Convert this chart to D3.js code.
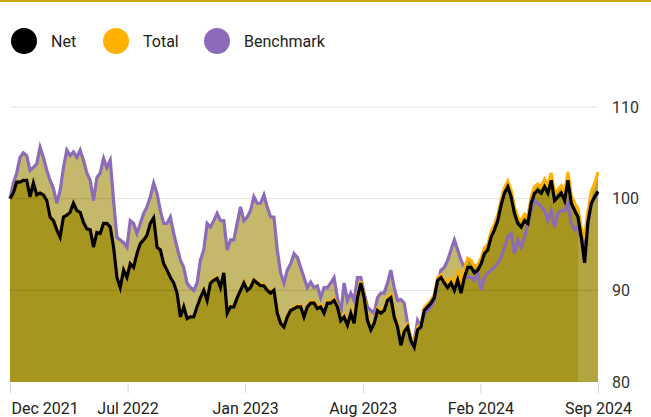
<!DOCTYPE html>
<html>
<head>
<meta charset="utf-8">
<script src="https://cdn.jsdelivr.net/npm/d3@7"></script>
<style>
  body { margin: 0; background: #fff; }
  svg { display: block; font-family: Roboto, "Liberation Sans", sans-serif; }
</style>
</head>
<body>
<div class="chart_wrapper"></div>
<script>
// series, sampled evenly from Dec 2021 to Sep 2024
const net = [
  100.0, 100.6, 101.8, 101.8, 102.0, 102.0, 100.2, 101.7, 100.4, 100.6,
  100.4, 99.8, 98.0, 97.6, 96.6, 95.8, 98.0, 98.2, 98.5, 99.5,
  98.7, 98.5, 97.4, 96.7, 96.6, 94.7, 96.3, 96.2, 97.3, 97.3,
  96.9, 94.7, 91.4, 90.3, 92.2, 91.4, 92.9, 92.5, 94.0, 95.1,
  95.5, 96.0, 97.3, 97.9, 94.7, 94.4, 92.9, 92.2, 91.4, 90.8,
  89.7, 87.1, 88.2, 86.9, 87.1, 87.1, 88.2, 89.2, 90.0, 88.9,
  90.8, 91.1, 91.3, 90.3, 91.9, 87.5, 88.2, 88.2, 89.2, 90.0,
  90.8, 90.0, 90.3, 91.1, 90.8, 90.5, 90.5, 90.0, 89.7, 90.0,
  87.5, 86.4, 86.0, 87.1, 87.8, 88.0, 88.2, 88.2, 87.1, 88.2,
  88.6, 88.6, 88.0, 88.2, 87.5, 88.6, 88.6, 88.9, 88.2, 86.7,
  87.1, 86.2, 87.5, 86.4, 89.2, 90.8, 89.2, 86.7, 85.7, 86.4,
  87.8, 87.5, 87.8, 88.9, 89.2, 87.1, 86.0, 84.0, 85.5, 86.0,
  84.5, 83.8, 85.7, 86.0, 87.8, 88.2, 88.6, 89.2, 91.1, 91.4,
  90.8, 90.3, 90.8, 90.0, 91.1, 89.7, 91.4, 92.5, 92.5, 91.9,
  92.2, 92.9, 94.0, 94.4, 95.8, 96.6, 97.6, 99.3, 100.6, 101.3,
  100.2, 98.4, 97.3, 96.9, 97.6, 97.3, 99.5, 100.6, 100.9, 100.6,
  101.3, 100.6, 102.0, 99.8, 100.2, 100.6, 99.8, 102.0, 99.5, 98.7,
  98.0, 95.8, 93.0, 97.5, 99.5, 100.2, 100.8
]
const total = [
  100.0, 100.6, 101.8, 101.8, 102.0, 102.0, 100.2, 101.7, 100.4, 100.6,
  100.4, 99.8, 98.0, 97.6, 96.6, 95.8, 98.0, 98.2, 98.5, 99.5,
  98.7, 98.5, 97.4, 96.7, 96.6, 94.7, 96.3, 96.2, 97.3, 97.3,
  96.9, 94.7, 91.4, 90.3, 92.2, 91.4, 92.9, 92.5, 94.0, 95.1,
  95.5, 96.0, 97.3, 97.9, 94.7, 94.4, 92.9, 92.2, 91.4, 90.8,
  89.7, 87.1, 88.2, 86.9, 87.1, 87.1, 88.2, 89.2, 90.0, 88.9,
  90.9, 91.2, 91.4, 90.4, 92.0, 87.6, 88.3, 88.3, 89.3, 90.1,
  90.9, 90.1, 90.4, 91.2, 90.9, 90.6, 90.6, 90.1, 89.8, 90.1,
  87.6, 86.5, 86.1, 87.2, 87.9, 88.1, 88.3, 88.3, 87.2, 88.3,
  88.8, 88.8, 88.2, 88.4, 87.7, 88.8, 88.8, 89.1, 88.4, 86.9,
  87.3, 86.4, 87.7, 86.6, 89.4, 91.0, 89.4, 86.9, 85.9, 86.6,
  88.0, 87.7, 88.0, 89.2, 89.5, 87.4, 86.3, 84.3, 85.8, 86.3,
  84.8, 84.1, 86.0, 86.3, 88.1, 88.5, 88.9, 89.5, 91.4, 91.7,
  91.2, 90.8, 91.3, 90.6, 92.0, 91.0, 92.4, 93.5, 93.3, 92.6,
  92.8, 93.5, 94.6, 95.0, 96.4, 97.2, 98.2, 99.9, 101.2, 101.9,
  100.9, 99.1, 98.0, 97.6, 98.3, 98.0, 100.2, 101.3, 101.6, 101.3,
  102.1, 101.4, 102.8, 100.6, 101.0, 101.4, 100.6, 102.9, 100.3, 99.5,
  98.9, 96.8, 96.0, 98.6, 100.8, 101.6, 102.9
]
const benchmark = [
  100.0, 101.7, 102.8, 104.5, 105.0, 104.7, 103.1, 103.4, 103.8, 105.6,
  104.5, 103.1, 102.0, 101.1, 99.5, 100.9, 103.4, 105.3, 104.7, 105.1,
  104.5, 105.3, 104.2, 102.8, 102.0, 99.8, 102.3, 102.8, 104.4, 103.4,
  104.2, 99.8, 95.8, 95.5, 95.2, 94.7, 97.6, 97.3, 96.2, 97.3,
  98.4, 99.1, 100.2, 101.7, 100.6, 98.7, 97.3, 97.3, 98.0, 96.2,
  94.7, 93.3, 92.5, 90.8, 90.3, 90.0, 90.8, 93.3, 94.4, 97.3,
  96.9, 97.6, 98.4, 97.6, 97.6, 94.4, 95.5, 95.5, 97.3, 99.1,
  97.6, 98.0, 98.7, 100.2, 99.5, 99.5, 100.4, 99.1, 98.0, 98.0,
  94.4, 91.9, 90.8, 92.2, 92.9, 94.0, 93.6, 92.5, 91.4, 90.3,
  90.9, 90.3, 90.5, 89.2, 90.3, 90.3, 90.8, 91.4, 89.2, 87.5,
  90.8, 88.9, 89.7, 88.9, 91.4, 91.4, 89.7, 88.2, 87.8, 87.5,
  89.2, 89.7, 89.7, 90.8, 92.2, 90.3, 88.9, 89.0, 88.6, 86.4,
  84.2, 84.5, 86.7, 86.0, 87.5, 87.8, 88.2, 88.9, 90.8, 92.2,
  92.5, 93.3, 94.4, 95.5, 94.4, 93.3, 92.5, 91.4, 91.4, 91.1,
  91.9, 90.0, 91.4, 91.9, 92.2, 92.5, 93.0, 93.6, 94.7, 95.8,
  96.2, 94.0, 95.5, 94.7, 95.8, 97.3, 98.7, 99.8, 99.5, 99.1,
  98.7, 97.6, 98.7, 96.9, 98.4, 98.7, 98.7, 99.5, 97.3, 96.6,
  96.9, 95.5, 94.8, 97.4, 99.4, 100.1, 100.6
]

const xTickLabels = ['Dec 2021', 'Jul 2022', 'Jan 2023', 'Aug 2023', 'Feb 2024', 'Sep 2024']
const yTicks = [80, 90, 100, 110]
const legendItems = ['Net', 'Total', 'Benchmark']
const legendColors = ['#000000', '#ffb000', '#8c6bb8']

const width = 651
const height = 417
const plotLeft = 10, plotRight = 598, plotTop = 107, plotBottom = 382

const svg_d3 = d3.select('.chart_wrapper')
    .append('svg')
    .attr('width', width)
    .attr('height', height)

// thin gold rule at the top
svg_d3.append('rect')
    .attr('x', 0).attr('y', 0)
    .attr('width', width).attr('height', 2)
    .attr('fill', '#c8a60c')

// legend
const legend_g = svg_d3.append('g')
const legendX = [24, 116, 217]
legendItems.forEach((name, i) => {
    legend_g.append('circle')
        .attr('cx', legendX[i]).attr('cy', 41).attr('r', 13)
        .attr('fill', legendColors[i])
    legend_g.append('text')
        .attr('x', legendX[i] + 27).attr('y', 41)
        .attr('dy', '0.35em')
        .attr('font-size', '16px')
        .attr('fill', '#222')
        .text(name)
})

const x = d3.scaleLinear().domain([0, net.length - 1]).range([plotLeft, plotRight])
const y = d3.scaleLinear().domain([80, 110]).range([plotBottom, plotTop])

const idx = d3.range(net.length)

const benchArea = d3.area()
    .x(i => x(i)).y0(y(80)).y1(i => y(benchmark[i]))
const totalArea = d3.area()
    .x(i => x(i)).y0(y(80)).y1(i => y(total[i]))

svg_d3.append('path')
    .datum(idx)
    .attr('d', benchArea)
    .attr('fill', '#c4b96b')

svg_d3.append('path')
    .datum(idx)
    .attr('d', totalArea)
    .attr('fill', '#a6951f')

// lighter band on the most recent weeks
svg_d3.append('rect')
    .attr('x', x(170)).attr('y', plotTop)
    .attr('width', plotRight - x(170)).attr('height', plotBottom - plotTop)
    .attr('fill', '#fff')
    .attr('opacity', 0.14)

// gridlines
svg_d3.append('g')
    .selectAll('line')
    .data(yTicks.filter(d => d > 80))
    .join('line')
    .attr('x1', plotLeft).attr('x2', plotRight)
    .attr('y1', d => y(d)).attr('y2', d => y(d))
    .attr('stroke', '#000')
    .attr('stroke-opacity', 0.12)
    .attr('stroke-width', 1)

const lineOf = arr => d3.line().x(i => x(i)).y(i => y(arr[i]))

svg_d3.append('path')
    .datum(idx)
    .attr('d', lineOf(benchmark))
    .attr('fill', 'none')
    .attr('stroke', legendColors[2])
    .attr('stroke-width', 3.2)

svg_d3.append('path')
    .datum(idx)
    .attr('d', lineOf(total))
    .attr('fill', 'none')
    .attr('stroke', legendColors[1])
    .attr('stroke-width', 3.2)

svg_d3.append('path')
    .datum(idx)
    .attr('d', lineOf(net))
    .attr('fill', 'none')
    .attr('stroke', legendColors[0])
    .attr('stroke-width', 3.2)

// bottom axis
const xTickValues = xTickLabels.map((d, k) => (net.length - 1) * k / (xTickLabels.length - 1))
const xAxis_g = svg_d3.append('g')
    .attr('transform', `translate(0,${plotBottom + 2})`)
    .call(d3.axisBottom(x)
        .tickValues(xTickValues)
        .tickFormat((d, i) => xTickLabels[i])
        .tickSize(9)
        .tickPadding(10))
xAxis_g.select('.domain').remove()
xAxis_g.selectAll('.tick line').attr('stroke', '#d4d4d4')
xAxis_g.selectAll('.tick text')
    .attr('font-size', '16px')
    .attr('font-family', 'Roboto, "Liberation Sans", sans-serif')
    .attr('fill', '#222')
    .attr('text-anchor', (d, i) => i === 0 ? 'start' : 'middle')
    .attr('dx', (d, i) => i === 0 ? 1 : 0)

// right axis
const yAxis_g = svg_d3.append('g')
    .attr('transform', `translate(${plotRight},0)`)
    .call(d3.axisRight(y)
        .tickValues(yTicks)
        .tickSize(0)
        .tickPadding(14))
yAxis_g.select('.domain').remove()
yAxis_g.selectAll('.tick text')
    .attr('font-size', '16px')
    .attr('font-family', 'Roboto, "Liberation Sans", sans-serif')
    .attr('fill', '#333')
</script>
</body>
</html>
